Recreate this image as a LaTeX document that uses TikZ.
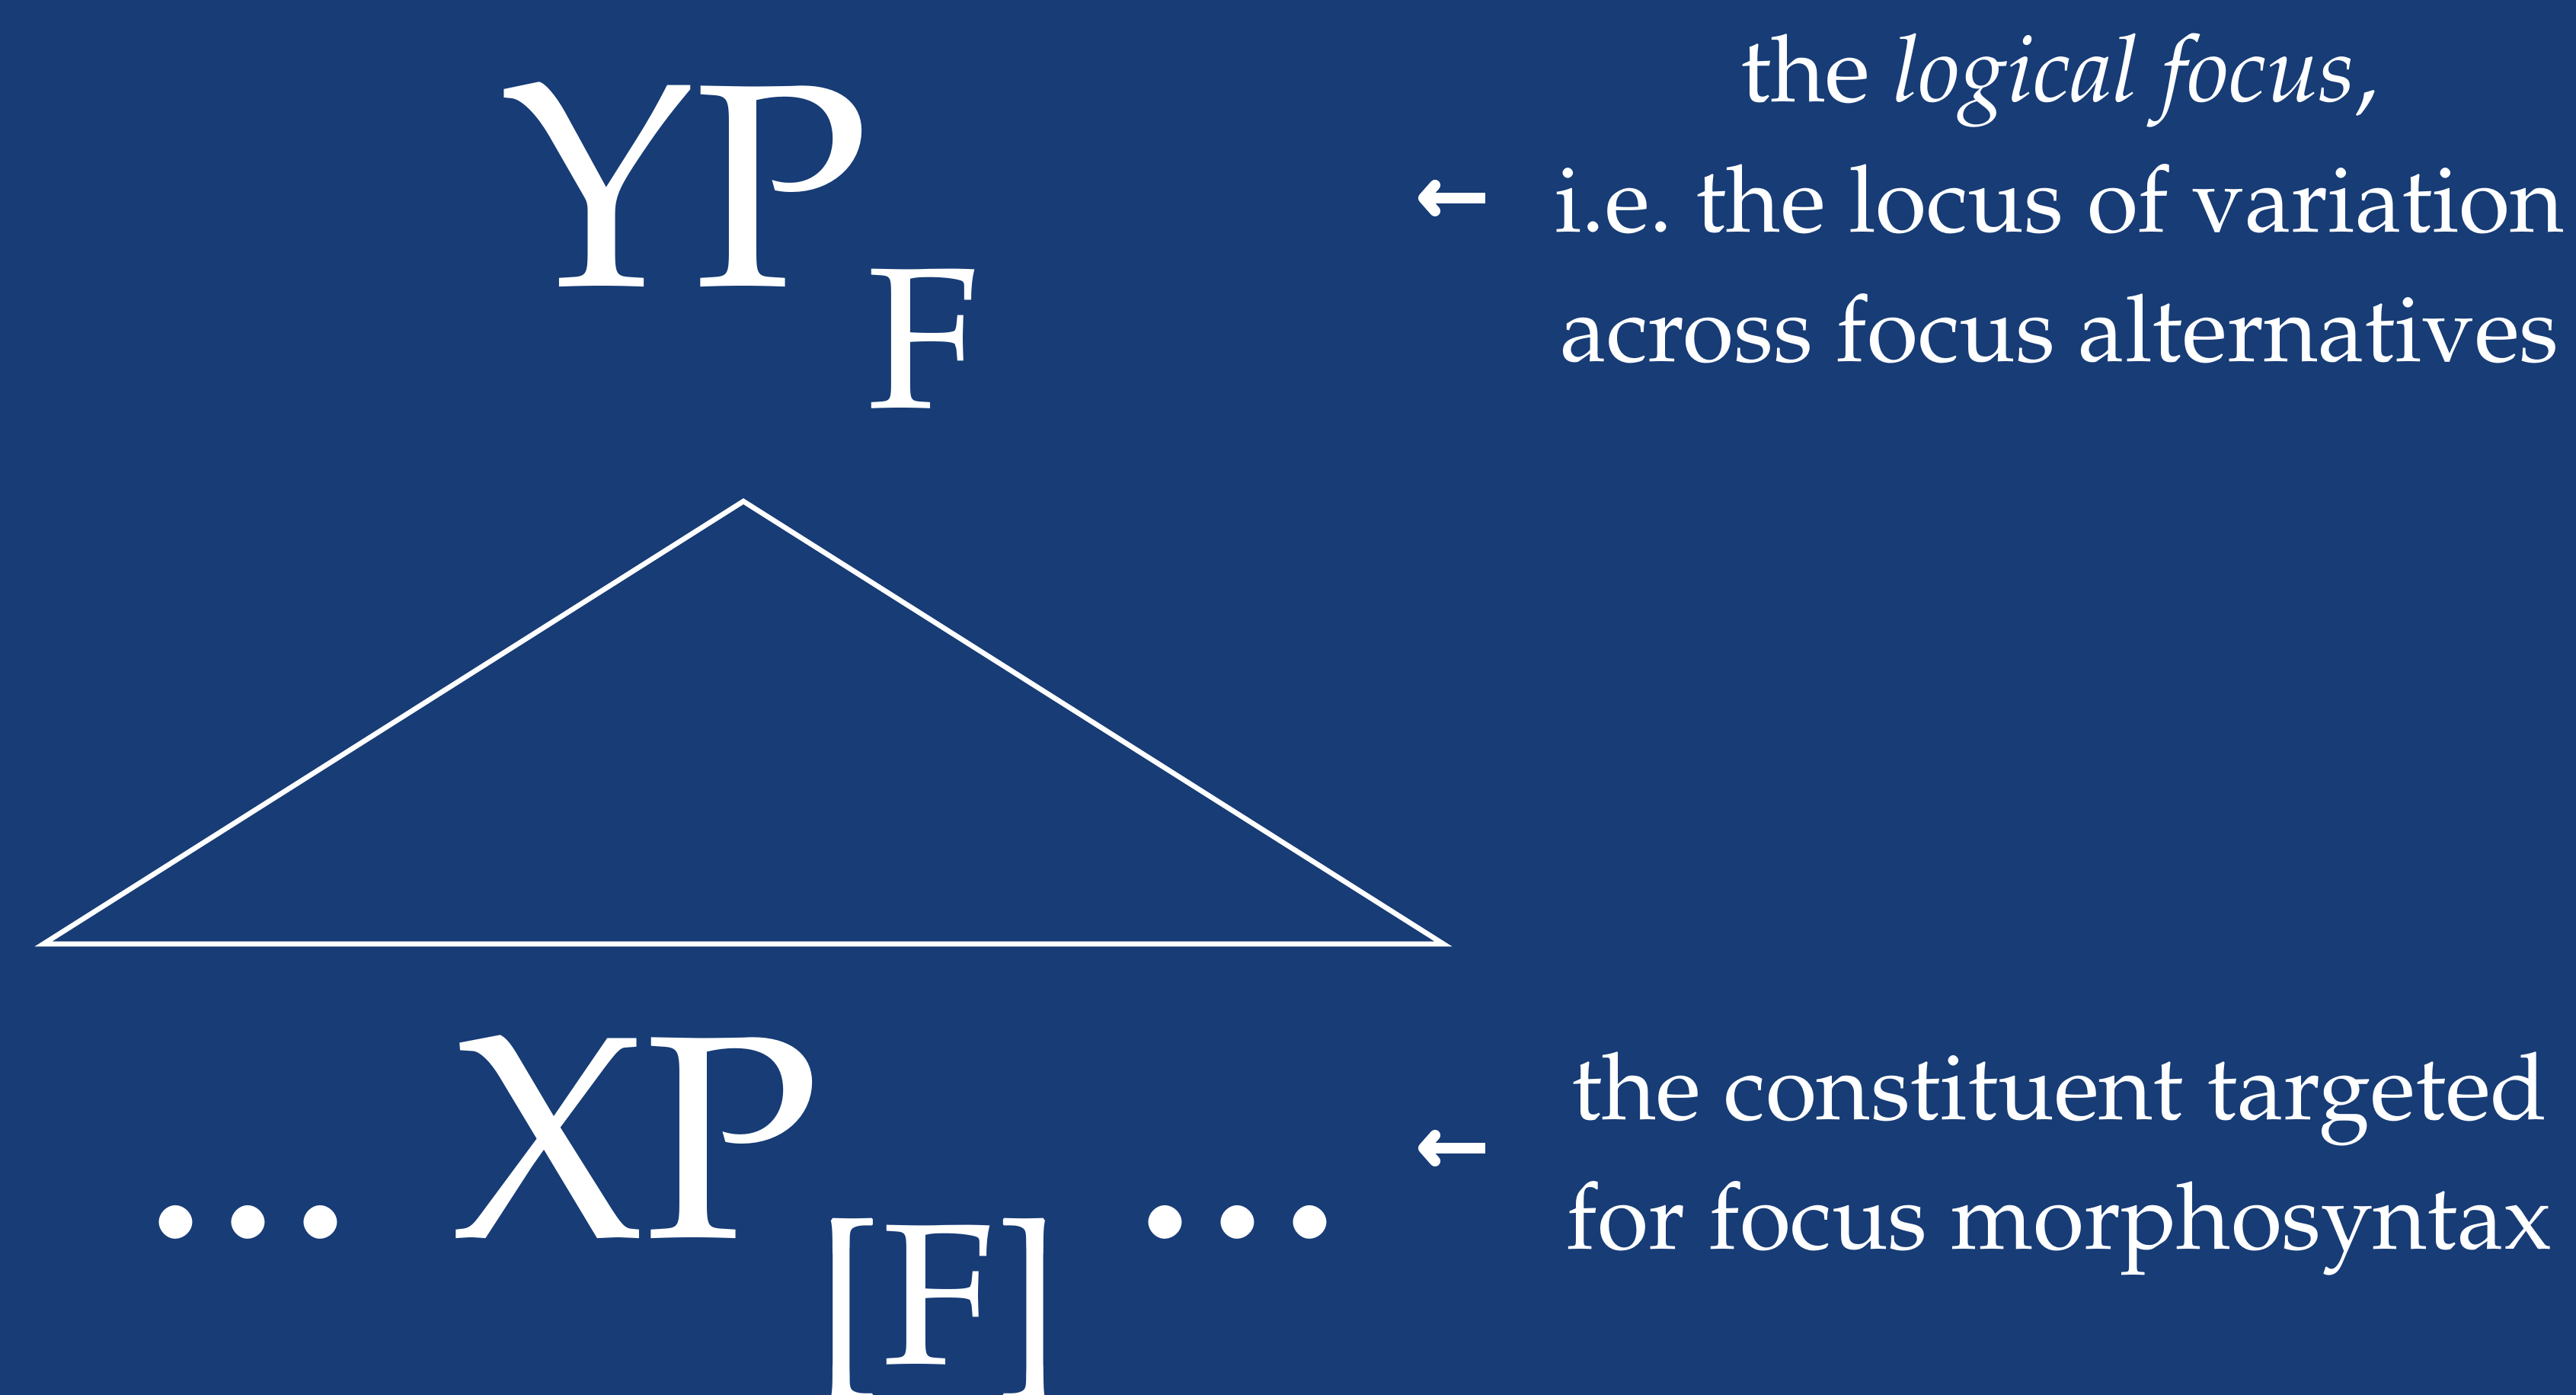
\documentclass[tikz,border=0pt]{standalone}
\usepackage[T1]{fontenc}
\usepackage{mathpazo}
\usetikzlibrary{positioning,arrows.meta}
\definecolor{slideblue}{RGB}{23,60,118}

\begin{document}
\begin{tikzpicture}[
    label/.style={text=white, inner sep=0pt, font=\fontsize{108}{120}\selectfont},
    feature/.style={text=white, inner sep=0pt, font=\fontsize{75}{85}\selectfont},
    gloss/.style={text=white, inner sep=0pt, align=center, font=\fontsize{34.8}{48.6}\selectfont},
    pointer/.style={draw=white, line width=4pt, arrows={-Straight Barb[round, length=1.5mm, width=3.4mm]}},
    tri/.style={draw=white, line width=1.9pt, line join=miter}
]
\fill[slideblue] (0,0) rectangle (33.82,18.31);
\useasboundingbox (0,0) rectangle (33.82,18.31);

% top of the tree
\node[label, anchor=base] (yp) at (9.00,14.55) {YP};
\node[feature, anchor=base] (ypf) at (12.12,12.95) {F};

\coordinate (apex) at (9.76,11.73);
\coordinate (lcorner) at (0.57,5.92);
\coordinate (rcorner) at (18.95,5.92);
\draw[tri] (apex) -- (lcorner) -- (rcorner) -- cycle;

% bottom of the tree
\node[label, anchor=base] (ldots) at (3.26,2.06) {...};
\node[label, anchor=base] (xp) at (8.35,2.06) {XP};
\node[feature, anchor=base] (xpf) at (12.32,0.40) {[F]};
\node[label, anchor=base] (rdots) at (16.25,2.06) {...};

% glosses
\node[gloss, anchor=base] (topgloss) at (27.04,13.56) {the \textit{logical focus},\\i.e.\ the locus of variation\\across focus alternatives};
\node[gloss, anchor=base] (botgloss) at (27.04,1.91) {the constituent targeted\\for focus morphosyntax};

\coordinate (toptail) at (19.50,15.71);
\coordinate (tophead) at (18.62,15.71);
\draw[pointer] (toptail) -- (tophead);
\coordinate (bottail) at (19.50,3.24);
\coordinate (bothead) at (18.62,3.24);
\draw[pointer] (bottail) -- (bothead);
\end{tikzpicture}
\end{document}
